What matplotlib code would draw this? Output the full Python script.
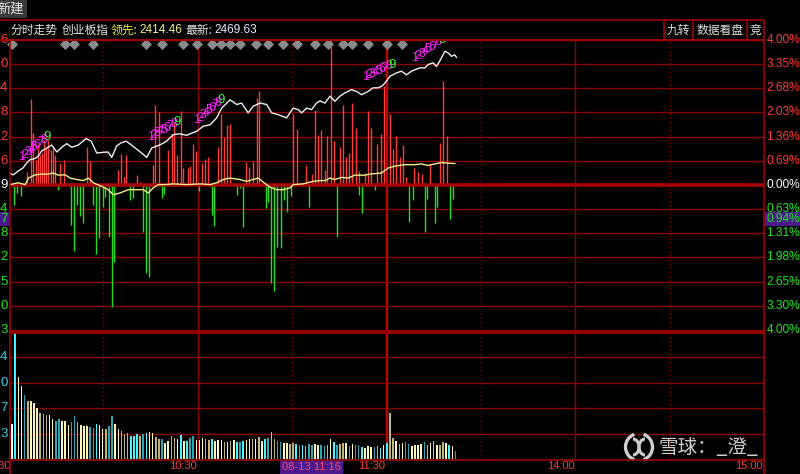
import matplotlib
matplotlib.use('Agg')
import matplotlib.pyplot as plt
import numpy as np
from matplotlib.patches import Rectangle, Arc

plt.rcParams['font.family'] = ['Noto Sans CJK SC', 'DejaVu Sans']
NUMF = ['Liberation Sans', 'DejaVu Sans']

# ---------------- data ----------------
price_min = [0.0,1.4,2.9,4.5,5.7,6.8,8.4,9.4,10.5,12.1,13.7,15.3,16.9,18.5,20.1,22.2,24.7,26.3,28.1,30.1,
             31.7,32.9,34.5,35.9,37.5,38.8,40.4,42.5,44.1,45.7,47.3,48.9,50.5,52.6,54.8,56.9,58.5,60.1,62.2,64.4,
             66.5,68.1,70.8,72.9,74.5,76.6,78.2,80.4,82.5,84.1,86.2,88.9,91.0,92.6,93.7,95.3,96.9,98.5,99.6,101.2,
             102.8,104.4,106.0,107.6,109.7,111.3,112.9,115.0,116.6,118.2,119.3,120.4,122.0,124.1,125.7,127.3,128.9,130.0,131.6,133.2,
             134.2,135.8,136.9,137.9,139.6,140.7,141.7,142.8,143.3]
price_pct = [0.33,0.28,0.38,0.47,0.61,0.70,0.73,0.80,0.94,1.02,1.10,0.91,1.04,1.14,1.04,1.10,1.28,1.21,0.88,0.90,
             0.91,0.76,1.08,1.16,1.21,1.13,1.02,0.88,0.76,1.02,1.07,1.13,1.21,1.39,1.41,1.37,1.43,1.48,1.62,1.66,
             1.85,2.12,2.35,2.22,2.26,1.99,2.17,2.26,2.22,1.99,1.94,1.85,2.12,2.08,1.99,2.12,2.08,2.26,2.32,2.26,
             2.45,2.31,2.45,2.54,2.63,2.58,2.49,2.58,2.68,2.68,2.72,2.81,3.00,3.09,3.14,3.04,3.14,3.18,3.23,3.23,
             3.32,3.37,3.27,3.41,3.69,3.64,3.55,3.59,3.52]

avg_min = [0.4,2.9,5.2,6.2,8.4,10.5,12.6,14.2,15.8,18.0,19.6,21.7,23.8,25.4,27.0,29.7,31.8,33.4,35.6,38.2,
           40.9,43.0,44.6,46.2,47.8,50.0,52.6,56.9,61.2,64.4,66.5,68.6,70.8,73.9,76.1,78.2,79.8,81.4,83.6,85.7,
           87.8,90.0,91.0,94.2,97.4,99.6,101.2,102.8,104.4,106.5,108.6,110.8,114.0,115.6,119.3,121.5,123.6,126.8,130.0,132.1,
           134.2,136.4,138.5,140.7,142.8]
avg_pct = [0.01,0.06,0.01,0.19,0.28,0.30,0.30,0.33,0.27,0.28,0.19,0.15,0.12,0.19,0.06,-0.04,-0.13,-0.27,-0.22,-0.13,
           -0.13,-0.13,-0.22,-0.08,0.01,0.01,0.03,0.01,0.03,0.01,0.06,0.15,0.19,0.15,0.10,0.15,0.19,0.08,-0.06,-0.13,
           -0.13,-0.08,0.01,0.03,0.10,0.12,0.12,0.19,0.15,0.21,0.19,0.27,0.27,0.30,0.33,0.47,0.52,0.56,0.56,0.58,
           0.54,0.58,0.62,0.60,0.59]

buy_min = [5.7,6.9,7.8,8.7,9.2,9.8,10.5,11.1,11.9,12.6,13.4,14.2,14.8,16.4,17.6,24.9,26.0,35.0,35.8,36.7,
           37.6,40.9,42.0,46.0,46.8,48.0,51.0,52.1,52.8,53.9,55.0,55.8,57.2,58.0,58.8,59.9,61.7,62.8,63.8,67.0,
           67.9,68.9,69.9,70.8,75.9,76.9,78.0,79.3,80.1,90.8,92.1,93.2,95.0,96.9,98.0,99.0,99.9,101.2,101.9,103.0,
           104.1,106.0,107.1,107.9,109.0,109.9,111.1,112.2,114.0,115.0,115.9,117.9,119.0,120.2,122.0,123.0,124.0,125.2,126.2,127.0,
           129.8,131.1,132.3,134.8,138.0,139.1,140.2]
buy_val = [0.37,2.36,1.43,0.69,1.14,0.83,0.87,1.24,1.01,1.24,0.97,1.06,0.84,0.61,0.69,1.06,0.66,0.41,0.85,0.21,
           0.83,0.28,0.07,0.55,2.21,2.00,0.97,1.39,1.71,0.84,2.04,0.47,0.47,0.52,1.13,0.93,0.61,0.73,0.76,1.04,
           1.96,1.32,1.66,1.68,0.63,0.49,0.66,2.40,2.58,1.96,1.54,0.06,0.56,0.30,2.08,1.39,1.53,0.42,1.34,4.0,
           1.22,1.04,2.22,0.76,0.88,2.26,1.57,0.38,0.33,2.03,1.57,1.13,1.41,2.72,1.96,0.99,1.34,0.76,1.10,0.21,
           0.47,0.36,0.30,0.58,1.16,2.86,1.34]

sell_min = [1.6,2.7,3.9,15.8,19.9,20.7,21.7,22.8,23.8,26.8,27.8,28.9,30.0,30.9,31.9,32.9,33.7,38.8,39.8,42.8,
            43.8,44.9,48.9,49.7,61.0,64.9,65.7,73.1,74.0,74.8,82.2,83.0,83.9,84.9,85.9,87.0,88.1,89.1,90.2,96.1,
            105.1,112.1,112.9,117.2,128.2,129.3,133.1,134.0,136.4,137.2,141.1,142.3]
sell_val = [-0.55,-0.21,-0.30,-0.14,-1.10,-1.82,-0.55,-0.87,-1.04,-0.55,-1.90,-1.45,-0.60,-0.32,-1.43,-3.36,-2.12,-0.41,-0.37,-1.29,
            -2.42,-2.53,-0.37,-0.25,-0.16,-0.83,-1.13,-0.28,-0.09,-1.15,-0.64,-0.46,-2.71,-2.92,-1.70,-1.75,-0.41,-0.75,-0.30,-0.60,
            -1.44,-0.28,-0.78,-0.14,-1.01,-0.41,-1.29,-0.39,-1.04,-0.60,-0.95,-0.39]

vol_val = [35,127,81.7,73,64.3,58.3,58,55.7,50.7,46.3,
           44.7,44.3,43.7,39.7,38.3,40,38,38,34,37,
           42.7,37,33.7,33,33,31.7,31,34.7,33.7,29.7,
           30,33,42.7,35,30,28.3,25,25.7,23,23,
           24.7,23.3,25,25.7,26.7,25.7,22.3,20,20.3,16.3,
           18,23,21,20,23.7,18.3,18.3,20.7,23,19,
           19,20.7,20,19,20,18.3,19,19,17,17,
           18.3,19,16.7,17,18,19,20,20,20,21.7,
           17.7,19.7,21.3,26.7,20,18,17,15.7,16,15,
           16.3,14.7,13.7,14,13.3,14.7,14,15,13.7,13.7,
           13,13.7,19.7,17,14.3,14.7,15.7,15.7,13.3,15,
           13.7,14,11.7,11.3,13,12.3,11.7,13,10.7,14,
           15.7,46.3,21,18.3,15,15.7,17,15,13.3,14,
           13.7,14.7,17,14.3,15.7,17.7,14,14,16.7,15.7,
           14,13.3,8.3]
vol_kind = ("WCPPTKPPPK" "KKPPTTPPPT" "TKPPPTTCPP" "KTTPPKKKCC" "CKTCPPKKTP"
            "PKKPCPCTTP" "PPKKCPPPKP" "KPCTCPPKPK" "PCTCKTTPPK" "KCTCKTTPPT"
            "TKPCTKKPTP" "TTCPPPTKCP" "CKKPKPTTPP" "PPTKPCPKKP" "CPT")

diamond_min = [1.0,18.0,20.8,26.9,43.9,49.0,55.7,60.2,65.0,67.9,70.8,74.0,79.1,82.9,87.7,92.2,
               98.0,102.1,106.9,109.8,114.9,121.0,125.8]

sig_start_min = [3.9, 45.2, 60.2, 114.3, 130.0]
sig_start_pct = [0.77, 1.32, 1.79, 2.98, 3.50]
sig_end_min = [12.2, 53.8, 67.9, 122.6, 138.6]
sig_end_pct = [1.32, 1.74, 2.34, 3.31, 4.0]

right_pos_labels = ['4.00%', '3.35%', '2.68%', '2.03%', '1.36%', '0.69%']
right_neg_labels = ['0.63%', '1.31%', '1.98%', '2.65%', '3.30%', '4.00%']
left_pos_labels = ['6', '0', '4', '8', '2', '6']
left_neg_labels = ['4', '8', '2', '5', '0', '3']
left_vol_labels = ['4', '0', '7', '3']
time_labels = ['10:30', '11:30', '14:00', '15:00']
cursor_pct = -0.94
cursor_label = '0.94%'
cursor_time = '08-13 11:16'

# ---------------- figure ----------------
W, H = 800, 474
fig = plt.figure(figsize=(8, 4.74), dpi=100, facecolor='black')

def fr(x0, y0, x1, y1):
    return [x0 / W, 1 - y1 / H, (x1 - x0) / W, (y1 - y0) / H]

XMAX = 241.8
GRID = '#8c0000'
RED = '#ff3a3a'
GRN = '#22e622'

ax_p = fig.add_axes(fr(9, 40, 764, 331))
ax_v = fig.add_axes(fr(9, 332, 764, 459))
for ax in (ax_p, ax_v):
    ax.set_facecolor('black')
    ax.set_xlim(0, XMAX)
    ax.set_xticks([]); ax.set_yticks([])
    for s in ax.spines.values():
        s.set_visible(False)
ax_p.set_ylim(-4.03, 4.0)
ax_v.set_ylim(0, 127)

# vertical grid
step = XMAX / 8
for ax in (ax_p, ax_v):
    for k in range(1, 8):
        if k == 4:
            ax.axvline(k * step, color='#c80000', lw=1.6, zorder=1)
        elif k % 2 == 0:
            ax.axvline(k * step, color=GRID, lw=1.0, zorder=1)
        else:
            ax.axvline(k * step, color=GRID, lw=1.0, ls=(0, (1, 2)), zorder=1)

# horizontal grid (price)
lev = np.arange(-6, 7) * 4.0 / 6
for k, y in zip(range(-6, 7), lev):
    if k == 0:
        continue
    ax_p.axhline(y, color=GRID, lw=1.0, zorder=1)
# volume grid
for y in np.arange(1, 5) * 127 / 5:
    ax_v.axhline(y, color=GRID, lw=1.0, zorder=1)

# red / green bars
ax_p.vlines(buy_min, 0, buy_val, color='#ff3c3c', lw=1.0, zorder=2)
ax_p.vlines(sell_min, 0, sell_val, color='#20e020', lw=1.0, zorder=2)
ax_p.axhline(0, color='#a80000', lw=2.6, zorder=2.5)

# price and average lines
ax_p.plot(price_min, price_pct, color='#f0f0f0', lw=1.0, zorder=3)
ax_p.plot(avg_min, avg_pct, color='#f0f08a', lw=1.0, zorder=3)

# diamonds
ax_p.scatter(diamond_min, [3.89] * len(diamond_min), marker='D', s=22,
             color='#8a8a8a', zorder=4, clip_on=False)

# nine-turn signal digits
for xs, ys, xe, ye in zip(sig_start_min, sig_start_pct, sig_end_min, sig_end_pct):
    for d in range(1, 10):
        t = (d - 1) / 8
        x = xs + (xe - xs) * t
        y = ys + (ye - ys) * t
        ax_p.text(x, y, str(d), color='#33ff33' if d == 9 else '#ff22ff',
                  fontsize=9.5 if d == 9 else 9, ha='center', va='center',
                  family=NUMF, zorder=5, clip_on=True)

# volume bars
vcol = {'W': '#ffffff', 'C': '#48f4ff', 'T': '#2ea6b4', 'P': '#faf6b4', 'K': '#bdb677'}
ax_v.bar(np.arange(1, len(vol_val) + 1), vol_val, width=0.5,
         color=[vcol[c] for c in vol_kind], zorder=2)

# ---------------- axis labels ----------------
RF = 8.6
tp = ax_p.get_yaxis_transform()
for y, lab in zip(lev[7:][::-1], right_pos_labels):
    ax_p.text(1.003, y, lab, transform=tp, color=RED, fontsize=RF, family=NUMF,
              ha='left', va='center', clip_on=False)
ax_p.text(1.003, 0, '0.00%', transform=tp, color='#ffffff', fontsize=RF, family=NUMF,
          ha='left', va='center', clip_on=False)
for y, lab in zip(lev[:6][::-1], right_neg_labels):
    ax_p.text(1.003, y, lab, transform=tp, color=GRN, fontsize=RF, family=NUMF,
              ha='left', va='center', clip_on=False)
for y, lab in zip(lev[7:][::-1], left_pos_labels):
    ax_p.text(-0.002, y, lab, transform=tp, color=RED, fontsize=9.5, family=NUMF,
              ha='right', va='center', clip_on=False)
ax_p.text(-0.002, 0, '9', transform=tp, color='#ffffff', fontsize=9.5, family=NUMF,
          ha='right', va='center', clip_on=False)
for y, lab in zip(lev[:6][::-1], left_neg_labels):
    ax_p.text(-0.002, y, lab, transform=tp, color=GRN, fontsize=9.5, family=NUMF,
              ha='right', va='center', clip_on=False)
tv = ax_v.get_yaxis_transform()
for y, lab in zip(np.arange(4, 0, -1) * 127 / 5, left_vol_labels):
    ax_v.text(-0.002, y, lab, transform=tv, color='#30d4e8', fontsize=9.5, family=NUMF,
              ha='right', va='center', clip_on=False)

# cursor boxes
ax_p.add_patch(Rectangle((1.0, cursor_pct - 0.19), 36 / 755, 0.38, transform=tp,
                         facecolor='#4b1a8c', edgecolor='none', clip_on=False, zorder=6))
ax_p.text(1.003, cursor_pct, cursor_label, transform=tp, color=GRN, fontsize=RF, family=NUMF,
          ha='left', va='center', clip_on=False, zorder=7)
ax_p.add_patch(Rectangle((-9 / 755, cursor_pct - 0.19), 9 / 755, 0.38, transform=tp,
                         facecolor='#4b1a8c', edgecolor='none', clip_on=False, zorder=6))
ax_p.text(-0.002, cursor_pct, '7', transform=tp, color=GRN, fontsize=9.5, family=NUMF,
          ha='right', va='center', clip_on=False, zorder=7)

# time labels
tx = ax_v.get_xaxis_transform()
for k, lab in zip([2, 4, 6, 8], time_labels):
    ax_v.text(k * step - 0.3, -0.058, lab, transform=tx, color=RED, fontsize=8, family=NUMF,
              ha='right', va='center', clip_on=False)
ax_v.text(0.6, -0.058, '9:30', transform=tx, color=RED, fontsize=8, family=NUMF,
          ha='right', va='center', clip_on=False)

# ---------------- overlay (frame, header, watermark) ----------------
ov = fig.add_axes([0, 0, 1, 1], zorder=10)
ov.set_xlim(0, W); ov.set_ylim(H, 0); ov.axis('off')
ov.patch.set_alpha(0)

def hl(y, x0, x1, c=GRID, lw=1.0):
    ov.plot([x0, x1], [y, y], color=c, lw=lw, solid_capstyle='butt')

def vl(x, y0, y1, c=GRID, lw=1.0):
    ov.plot([x, x], [y0, y1], color=c, lw=lw, solid_capstyle='butt')

ov.add_patch(Rectangle((0, 0), 27, 18, facecolor='#3a3a3a', edgecolor='none'))
ov.text(-3, 9, '新建', color='#e6e6e6', fontsize=9.5, ha='left', va='center')
hl(20, 0, 764, '#a00000', 1.2)
hl(40, 0, 764, '#a00000', 1.4)
vl(764, 20, 474, '#a00000', 1.2)
vl(9.5, 40, 474, '#a00000', 1.2)
hl(331.5, 9, 764, '#a00000', 2.0)
hl(459.5, 9, 764, '#a00000', 1.2)

ov.text(10, 30, '分时走势', color='#e6e6e6', fontsize=8.5, ha='left', va='center')
ov.text(62, 30, '创业板指', color='#e6e6e6', fontsize=8.5, ha='left', va='center')
ov.text(111, 30, '领先:', color='#e8e84a', fontsize=8.5, ha='left', va='center')
ov.text(139, 30, '2414.46', color='#f2f288', fontsize=8.5, family=NUMF, ha='left', va='center')
ov.text(185, 30, '最新:', color='#e6e6e6', fontsize=8.5, ha='left', va='center')
ov.text(214, 30, '2469.63', color='#e8e8ff', fontsize=8.5, family=NUMF, ha='left', va='center')

for x in (664, 693, 747):
    vl(x, 20, 40, '#a00000', 1.2)
ov.text(678.5, 30, '九转', color='#e0e0e0', fontsize=8.5, ha='center', va='center')
ov.text(720, 30, '数据看盘', color='#e0e0e0', fontsize=8.5, ha='center', va='center')
ov.text(755.5, 30, '竞', color='#e0e0e0', fontsize=8.5, ha='center', va='center')

ov.add_patch(Rectangle((280, 460), 63, 14, facecolor='#4b1a8c', edgecolor='none'))
ov.text(311.5, 467, cursor_time, color='#ff4a6a', fontsize=8, family=NUMF,
        ha='center', va='center')

# watermark
WM = '#cfcfcf'
ov.add_patch(Arc((639, 447), 27, 27, theta1=110, theta2=250, color=WM, lw=2.4))
ov.add_patch(Arc((639, 447), 27, 27, theta1=290, theta2=70, color=WM, lw=2.4))
ov.add_patch(Arc((633, 447), 12, 16, theta1=270, theta2=90, color=WM, lw=2.2))
ov.add_patch(Arc((645, 447), 12, 16, theta1=90, theta2=270, color=WM, lw=2.2))
ov.text(659, 448, '雪球：_澄_', color=WM, fontsize=14, ha='left', va='center')

fig.savefig('out.png', dpi=100, facecolor='black')
